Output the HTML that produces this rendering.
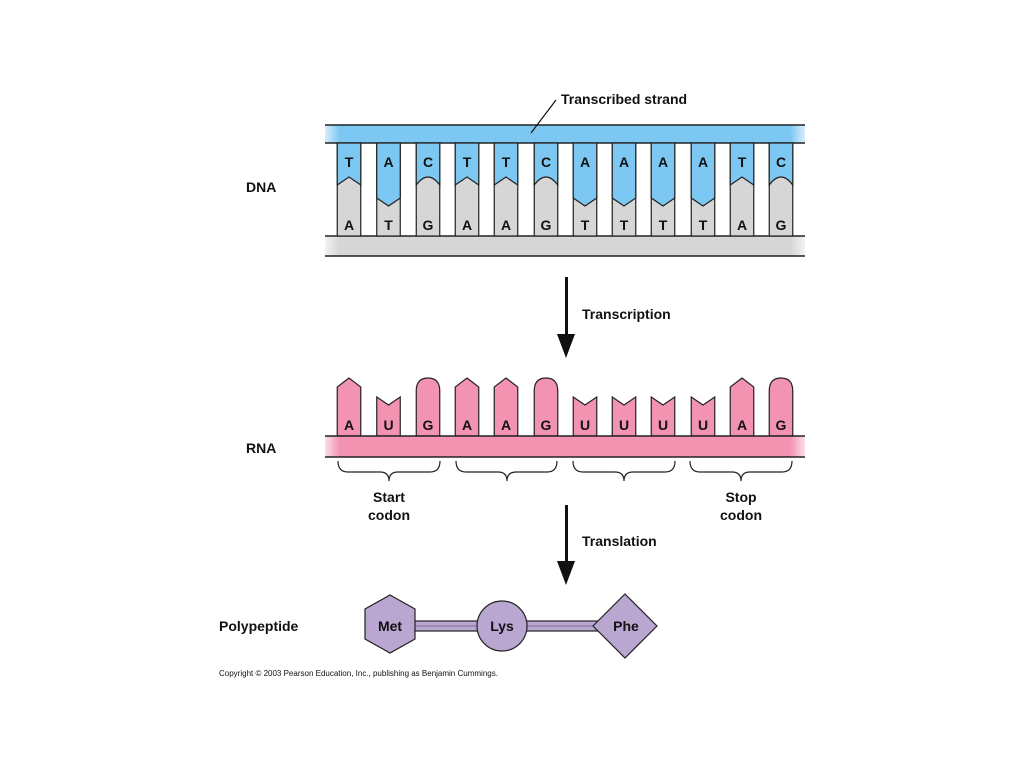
<!DOCTYPE html>
<html><head><meta charset="utf-8"><style>
html,body{margin:0;padding:0;background:#fff;}
svg{display:block;}
text{font-family:"Liberation Sans",Arial,sans-serif;font-weight:bold;fill:#111;}
</style></head><body>
<svg width="1024" height="768" viewBox="0 0 1024 768" xmlns="http://www.w3.org/2000/svg">
<defs>
<linearGradient id="fb" x1="0" x2="1"><stop offset="0" stop-color="#7dc8f2" stop-opacity="0.3"/><stop offset="0.03" stop-color="#7dc8f2"/><stop offset="0.97" stop-color="#7dc8f2"/><stop offset="1" stop-color="#7dc8f2" stop-opacity="0.3"/></linearGradient>
<linearGradient id="fg" x1="0" x2="1"><stop offset="0" stop-color="#d6d6d6" stop-opacity="0.3"/><stop offset="0.03" stop-color="#d6d6d6"/><stop offset="0.97" stop-color="#d6d6d6"/><stop offset="1" stop-color="#d6d6d6" stop-opacity="0.3"/></linearGradient>
<linearGradient id="fp" x1="0" x2="1"><stop offset="0" stop-color="#f393b2" stop-opacity="0.3"/><stop offset="0.03" stop-color="#f393b2"/><stop offset="0.97" stop-color="#f393b2"/><stop offset="1" stop-color="#f393b2" stop-opacity="0.3"/></linearGradient>
<g id="dT"><rect x="-11.75" y="143" width="23.5" height="93" fill="#d6d6d6" stroke="#222" stroke-width="1.2"/><path d="M-11.75,143 V185 L0,177 L11.75,185 V143Z" fill="#7dc8f2" stroke="#222" stroke-width="1.2"/></g>
<g id="dA"><rect x="-11.75" y="143" width="23.5" height="93" fill="#d6d6d6" stroke="#222" stroke-width="1.2"/><path d="M-11.75,143 V198 L0,206 L11.75,198 V143Z" fill="#7dc8f2" stroke="#222" stroke-width="1.2"/></g>
<g id="dC"><rect x="-11.75" y="143" width="23.5" height="93" fill="#d6d6d6" stroke="#222" stroke-width="1.2"/><path d="M-11.75,143 V185 Q0,169 11.75,185 V143Z" fill="#7dc8f2" stroke="#222" stroke-width="1.2"/></g>
<path id="rA" d="M-11.75,436 V387 L0,378 L11.75,387 V436Z" fill="#f393b2" stroke="#222" stroke-width="1.2"/>
<path id="rU" d="M-11.75,436 V397 L0,405 L11.75,397 V436Z" fill="#f393b2" stroke="#222" stroke-width="1.2"/>
<path id="rG" d="M-11.75,436 V391 Q-11.75,378 0,378 Q11.75,378 11.75,391 V436Z" fill="#f393b2" stroke="#222" stroke-width="1.2"/>
</defs>

<!-- DNA -->
<rect x="325" y="125" width="480" height="18" fill="url(#fb)"/>
<line x1="325" y1="125" x2="805" y2="125" stroke="#222" stroke-width="1.5"/>
<line x1="325" y1="143" x2="805" y2="143" stroke="#222" stroke-width="1.5"/>
<rect x="325" y="236" width="480" height="20" fill="url(#fg)"/>
<line x1="325" y1="236" x2="805" y2="236" stroke="#222" stroke-width="1.5"/>
<line x1="325" y1="256" x2="805" y2="256" stroke="#222" stroke-width="1.5"/>
<use href="#dT" x="349"/><use href="#dA" x="388.5"/><use href="#dC" x="428"/><use href="#dT" x="467"/><use href="#dT" x="506"/><use href="#dC" x="546"/><use href="#dA" x="585"/><use href="#dA" x="624"/><use href="#dA" x="663"/><use href="#dA" x="703"/><use href="#dT" x="742"/><use href="#dC" x="781"/>
<g font-size="14" text-anchor="middle">
<text x="349" y="167">T</text><text x="388.5" y="167">A</text><text x="428" y="167">C</text><text x="467" y="167">T</text><text x="506" y="167">T</text><text x="546" y="167">C</text><text x="585" y="167">A</text><text x="624" y="167">A</text><text x="663" y="167">A</text><text x="703" y="167">A</text><text x="742" y="167">T</text><text x="781" y="167">C</text>
<text x="349" y="230">A</text><text x="388.5" y="230">T</text><text x="428" y="230">G</text><text x="467" y="230">A</text><text x="506" y="230">A</text><text x="546" y="230">G</text><text x="585" y="230">T</text><text x="624" y="230">T</text><text x="663" y="230">T</text><text x="703" y="230">T</text><text x="742" y="230">A</text><text x="781" y="230">G</text>
</g>
<line x1="531" y1="133" x2="556" y2="100" stroke="#111" stroke-width="1.2"/>
<text x="561" y="104" font-size="14">Transcribed strand</text>
<text x="246" y="192" font-size="14">DNA</text>

<!-- Transcription arrow -->
<rect x="565" y="277" width="3" height="60" fill="#111"/>
<path d="M557,334 L575,334 L566,358Z" fill="#111"/>
<text x="582" y="319" font-size="14">Transcription</text>

<!-- RNA -->
<use href="#rA" x="349"/><use href="#rU" x="388.5"/><use href="#rG" x="428"/><use href="#rA" x="467"/><use href="#rA" x="506"/><use href="#rG" x="546"/><use href="#rU" x="585"/><use href="#rU" x="624"/><use href="#rU" x="663"/><use href="#rU" x="703"/><use href="#rA" x="742"/><use href="#rG" x="781"/>
<rect x="325" y="436" width="480" height="21" fill="url(#fp)"/>
<line x1="325" y1="436" x2="805" y2="436" stroke="#222" stroke-width="1.5"/>
<line x1="325" y1="457" x2="805" y2="457" stroke="#222" stroke-width="1.5"/>
<g font-size="14" text-anchor="middle">
<text x="349" y="430">A</text><text x="388.5" y="430">U</text><text x="428" y="430">G</text><text x="467" y="430">A</text><text x="506" y="430">A</text><text x="546" y="430">G</text><text x="585" y="430">U</text><text x="624" y="430">U</text><text x="663" y="430">U</text><text x="703" y="430">U</text><text x="742" y="430">A</text><text x="781" y="430">G</text>
</g>
<g fill="none" stroke="#222" stroke-width="1.2">
<path d="M338,461 Q338,472 348,472 H380 Q389,472 389,481 Q389,472 398,472 H430 Q440,472 440,461"/>
<path d="M456,461 Q456,472 466,472 H498 Q507,472 507,481 Q507,472 516,472 H547 Q557,472 557,461"/>
<path d="M573,461 Q573,472 583,472 H615 Q624,472 624,481 Q624,472 633,472 H665 Q675,472 675,461"/>
<path d="M690,461 Q690,472 700,472 H732 Q741,472 741,481 Q741,472 750,472 H782 Q792,472 792,461"/>
</g>
<g font-size="14" text-anchor="middle">
<text x="389" y="502">Start</text><text x="389" y="520">codon</text>
<text x="741" y="502">Stop</text><text x="741" y="520">codon</text>
</g>
<text x="246" y="453" font-size="14">RNA</text>

<!-- Translation arrow -->
<rect x="565" y="505" width="3" height="60" fill="#111"/>
<path d="M557,561 L575,561 L566,585Z" fill="#111"/>
<text x="582" y="546" font-size="14">Translation</text>

<!-- Polypeptide -->
<rect x="410" y="621" width="190" height="10" fill="#b9a7d2" stroke="#222" stroke-width="1.2"/>
<line x1="410" y1="626" x2="600" y2="626" stroke="#6b5b80" stroke-width="0.8"/>
<polygon points="390,595 415,609 415,639 390,653 365,639 365,609" fill="#b9a7d2" stroke="#222" stroke-width="1.2"/>
<circle cx="502" cy="626" r="25" fill="#b9a7d2" stroke="#222" stroke-width="1.2"/>
<polygon points="625,594 657,626 625,658 593,626" fill="#b9a7d2" stroke="#222" stroke-width="1.2"/>
<g font-size="14" text-anchor="middle">
<text x="390" y="631">Met</text><text x="502" y="631">Lys</text><text x="626" y="631">Phe</text>
</g>
<text x="219" y="631" font-size="14">Polypeptide</text>
<text x="219" y="676" font-size="8" font-weight="normal" style="font-weight:normal">Copyright © 2003 Pearson Education, Inc., publishing as Benjamin Cummings.</text>
</svg>
</body></html>
